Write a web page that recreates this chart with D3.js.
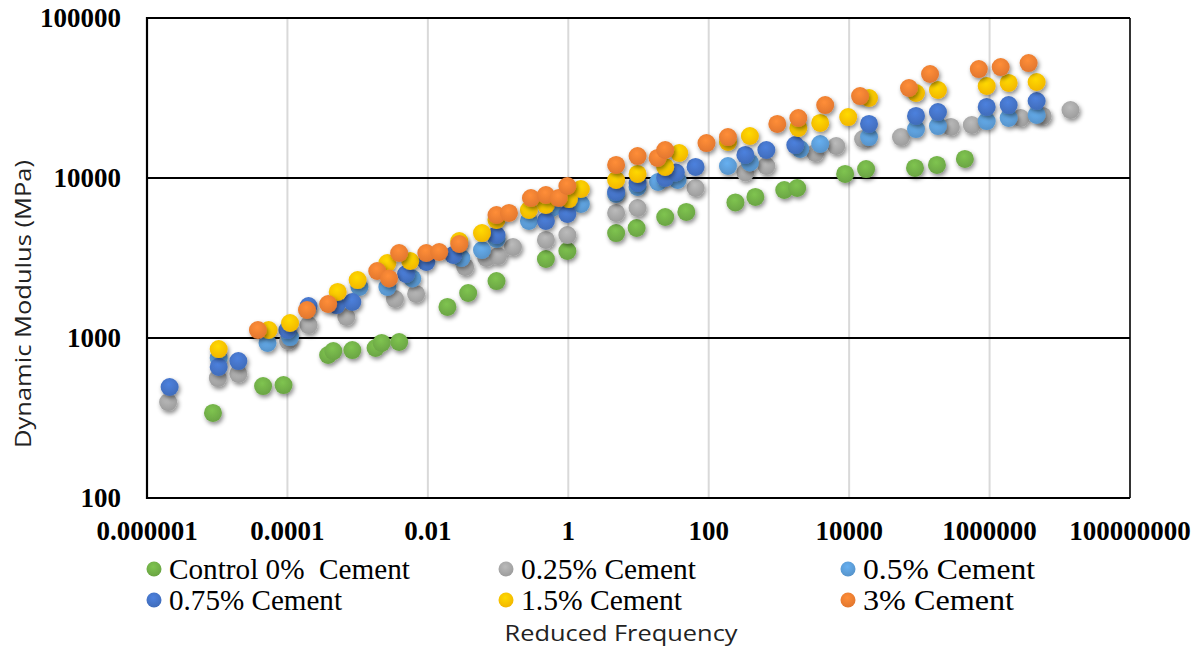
<!DOCTYPE html>
<html><head><meta charset="utf-8">
<script src="https://cdn.jsdelivr.net/npm/d3@7"></script>
<style>body{margin:0;background:#fff}svg{display:block}</style>
</head><body><svg id="chart"></svg>
<script>
// reduced frequency (Hz) vs dynamic modulus (MPa)
const control0 = [[8.7e-6,340],[4.5e-5,501],[8.8e-5,508],[3.8e-4,783],[4.5e-4,829],[8.4e-4,841],[1.8e-3,866],[2.2e-3,931],[3.9e-3,944],[1.9e-2,1563],[3.75e-2,1911],[9.5e-2,2270],[0.48,3117],[0.97,3497],[4.8,4530],[9.4,4870],[24,5705],[48,6133],[240,7030],[462,7610],[1190,8414],[1820,8660],[8770,10600],[17430,11370],[86700,11550],[178000,12060],[445000,13150]];
const cement025 = [[2.0e-6,398],[1.02e-5,562],[2.0e-5,596],[1.02e-4,958],[2.0e-4,1205],[6.9e-4,1353],[3.4e-3,1753],[6.8e-3,1884],[3.4e-2,2780],[6.8e-2,3162],[0.1,3254],[0.163,3705],[0.48,4098],[0.97,4403],[4.8,6045],[9.7,6494],[65,8660],[333,10830],[662,11885],[3290,14330],[6540,15850],[15800,17530],[54800,18030],[281000,20840],[558000,21440],[2.77e6,23710],[5.7e6,24420],[1.42e7,26610]];
const cement05 = [[1.05e-5,750],[5.2e-5,931],[1.09e-4,1014],[1.06e-3,2083],[2.65e-3,2083],[6.0e-3,2354],[3.0e-2,3162],[5.9e-2,3548],[9.5e-2,4158],[0.275,5387],[0.585,6494],[1.51,6879],[4.8,7943],[9.7,8790],[19,9441],[36,9716],[188,11885],[386,12500],[2010,15180],[3870,16310],[19200,18030],[89600,20230],[184000,21130],[910000,22700],[1.87e6,23710],[4.68e6,24770]];
const cement075 = [[2.1e-6,494],[1.05e-5,659],[2.0e-5,718],[1.0e-4,1122],[2.0e-4,1585],[5.0e-4,1607],[8.4e-4,1679],[4.9e-3,2512],[9.5e-3,2985],[2.3e-2,3302],[9.5e-2,4403],[0.48,5387],[0.97,5957],[4.8,8175],[9.7,9306],[24,10000],[34,10830],[65,11720],[333,13930],[662,14960],[1710,16070],[19200,21760],[89600,24420],[184000,25850],[910000,27800],[1.87e6,28580],[4.68e6,30290]];
const cement15 = [[1.05e-5,853],[5.4e-5,1122],[1.09e-4,1241],[5.2e-4,1939],[1.0e-3,2300],[2.65e-3,2942],[5.6e-3,3029],[2.8e-2,4036],[5.9e-2,4530],[9.5e-2,5464],[0.275,6310],[0.48,6780],[1.02,7390],[1.51,8535],[4.8,9716],[9.7,10600],[24,11720],[38,14330],[188,16790],[386,18300],[1890,20540],[3870,22080],[9700,24050],[19200,31620],[89600,33980],[184000,35480],[910000,37580],[1.87e6,39250],[4.68e6,39810]];
const cement3 = [[3.8e-5,1122],[1.9e-4,1496],[3.8e-4,1631],[1.9e-3,2623],[2.8e-3,2354],[3.9e-3,3398],[9.5e-3,3398],[1.45e-2,3447],[2.8e-2,3868],[9.5e-2,5871],[0.143,6045],[0.294,7499],[0.48,7830],[0.73,7499],[0.97,8913],[4.8,12060],[9.7,13720],[18.7,13340],[24,14960],[93,16540],[188,18030],[948,21760],[1890,23710],[4560,28580],[14300,32540],[71200,36520],[142000,44670],[703000,47990],[1.44e6,49370],[3.6e6,52320]];
const seriesNames = ['Control 0%  Cement','0.25% Cement','0.5% Cement','0.75% Cement','1.5% Cement','3% Cement'];
const seriesColors = ['#70AD47','#A5A5A5','#5B9BD5','#4472C4','#FFC000','#ED7D31'];
const xTicks = [1e-6,1e-4,1e-2,1,1e2,1e4,1e6,1e8];
const xTickLabels = ['0.000001','0.0001','0.01','1','100','10000','1000000','100000000'];
const yTicks = [100,1000,10000,100000];

const series = [control0,cement025,cement05,cement075,cement15,cement3].map((pts,i)=>({name:seriesNames[i],color:seriesColors[i],pts}));
const W = 1201, H = 651, m = {left:147, right:1130, top:18, bottom:498};
const x = d3.scaleLog().domain([1e-6,1e8]).range([m.left,m.right]);
const y = d3.scaleLog().domain([100,1e5]).range([m.bottom,m.top]);

const svg = d3.select('#chart').attr('width',W).attr('height',H);
const defs = svg.append('defs');
defs.append('filter').attr('id','shadow').attr('x','-50%').attr('y','-50%').attr('width','200%').attr('height','200%')
  .append('feDropShadow').attr('dx',1.5).attr('dy',2.5).attr('stdDeviation',2).attr('flood-color','#000').attr('flood-opacity',0.45);
series.forEach((s,i)=>{ // slight gloss on the markers
  const g = defs.append('radialGradient').attr('id','grad'+i).attr('cx','45%').attr('cy','35%').attr('r','65%');
  g.append('stop').attr('offset','0%').attr('stop-color',d3.color(s.color).brighter(0.35));
  g.append('stop').attr('offset','100%').attr('stop-color',d3.color(s.color).darker(0.15));
});

// vertical grid (light gray)
svg.append('g').selectAll('line').data(xTicks.slice(1,-1)).join('line')
  .attr('x1',d=>x(d)).attr('x2',d=>x(d)).attr('y1',m.top).attr('y2',m.bottom).attr('stroke','#D9D9D9').attr('stroke-width',2);
// horizontal grid (black)
svg.append('g').selectAll('line').data(yTicks).join('line')
  .attr('x1',m.left).attr('x2',m.right).attr('y1',d=>y(d)).attr('y2',d=>y(d)).attr('stroke','#000').attr('stroke-width',2.2);
svg.append('line').attr('x1',m.right).attr('x2',m.right).attr('y1',m.top).attr('y2',m.bottom).attr('stroke','#000').attr('stroke-width',1.6);
svg.append('line').attr('x1',m.left).attr('x2',m.left).attr('y1',m.top-1).attr('y2',m.bottom+1).attr('stroke','#000').attr('stroke-width',2.2);

// tick labels
svg.append('g').selectAll('text').data(yTicks).join('text').attr('x',121).attr('y',d=>y(d)+9)
  .attr('text-anchor','end').attr('font-family','Liberation Serif').attr('font-weight','bold').attr('font-size',27).text(d=>d);
svg.append('g').selectAll('text').data(xTicks).join('text').attr('x',d=>x(d)).attr('y',540)
  .attr('text-anchor','middle').attr('font-family','Liberation Serif').attr('font-weight','bold').attr('font-size',27).text((d,i)=>xTickLabels[i]);

// points
series.forEach((s,i)=>{
  svg.append('g').attr('filter','url(#shadow)').selectAll('circle').data(s.pts).join('circle')
    .attr('cx',d=>x(d[0])).attr('cy',d=>y(d[1])).attr('r',9).attr('fill','url(#grad'+i+')');
});

// legend
const legCols = [154,506,848], legRows = [569,600], legTextW = [241,175,172,173,161,151];
const leg = svg.append('g').selectAll('g').data(series).join('g')
  .attr('transform',(d,i)=>`translate(${legCols[i%3]},${legRows[Math.floor(i/3)]})`);
leg.append('circle').attr('r',7.5).attr('fill',(d,i)=>'url(#grad'+i+')');
leg.append('text').attr('x',15).attr('y',10).attr('font-family','Liberation Serif').attr('font-size',29)
  .attr('xml:space','preserve').style('white-space','pre').attr('textLength',(d,i)=>legTextW[i]).attr('lengthAdjust','spacingAndGlyphs').text(d=>d.name);

// axis titles
svg.append('text').attr('transform','translate(31,304) rotate(-90)').attr('text-anchor','middle')
  .attr('font-family','Open Sans').attr('font-size',21).attr('fill','#222').attr('textLength',288).attr('lengthAdjust','spacingAndGlyphs').text('Dynamic Modulus (MPa)');
svg.append('text').attr('x',621).attr('y',641).attr('text-anchor','middle')
  .attr('font-family','Open Sans').attr('font-size',21).attr('fill','#222').attr('textLength',233).attr('lengthAdjust','spacingAndGlyphs').text('Reduced Frequency');
</script></body></html>
